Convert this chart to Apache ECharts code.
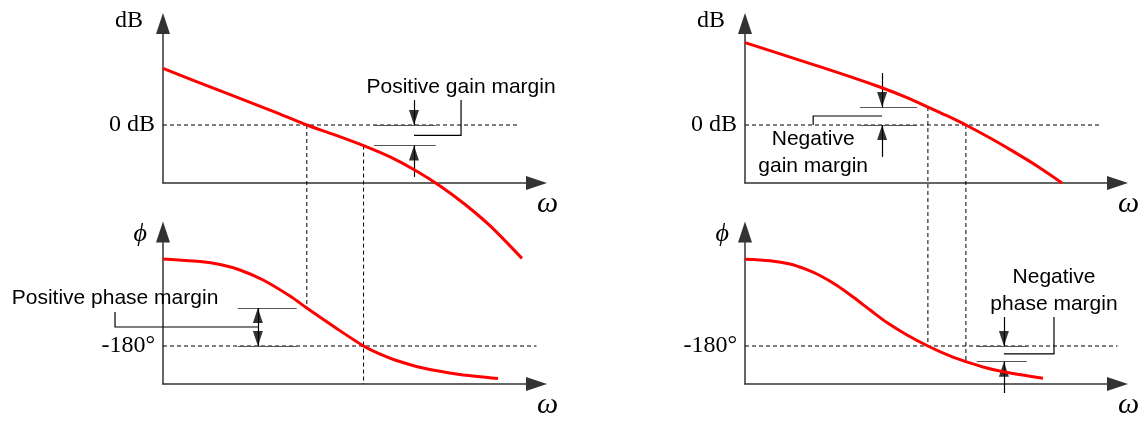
<!DOCTYPE html>
<html>
<head>
<meta charset="utf-8">
<script src="https://cdn.jsdelivr.net/npm/echarts@6/dist/echarts.min.js"></script>
<style>
  html, body { margin: 0; padding: 0; background: #fff; }
  #chart { width: 1146px; height: 421px; }
</style>
</head>
<body>
<div id="chart"></div>
<script>
// Bode plots of a stable loop (left) and an unstable loop (right).
// ω is a normalised frequency (0–100 along each axis), gain in dB, phase in degrees.

// Stable loop
const omegaGainStable  = [0, 16.1, 29.5, 38.5, 46, 53.7, 60.8, 67.5, 74.2, 80.9, 87.6, 96.1];
const gainStable       = [19.5, 11.4, 4.7, 0, -3.4, -7.1, -11, -15.6, -21, -27.4, -34.8, -46];
const omegaPhaseStable = [0, 9.9, 15.3, 20.6, 26.8, 34, 38.5, 46.1, 53.7, 58, 62.1, 69.6, 79.5, 89.7];
const phaseStable      = [-88.4, -91.1, -94.2, -100, -110.5, -127.4, -140, -160.5, -180, -188.4, -194.7, -203.2, -210, -214.2];

// Unstable loop
const omegaGainUnstable  = [0, 14.8, 28.2, 36.2, 43, 49.1, 54.2, 59.3, 65.8, 72, 78.7, 85.1];
const gainUnstable       = [28.4, 22.3, 16.7, 13.1, 9.7, 6.2, 3.2, 0, -4.5, -9.1, -14.4, -20];
const omegaPhaseUnstable = [0, 6.7, 12.1, 16.1, 20.1, 24.7, 29, 33.6, 38.1, 43.5, 49.1, 55, 59.3, 64.4, 69.3, 80];
const phaseUnstable      = [-88.7, -90.3, -93.7, -98.9, -105.8, -116.3, -128.4, -142.1, -155.3, -168.4, -180, -190.5, -196.5, -202.6, -207.1, -214];

// Gain-crossover (|G| = 0 dB) and phase-crossover (∠G = -180°) frequencies
const crossoverStable   = { gain: 38.5, phase: 53.7 };
const crossoverUnstable = { gain: 59.3, phase: 49.1 };

// Axis ranges and the single labelled tick on each vertical axis
const omegaRange = [0, 100];
const gainRange  = [-20, 35];
const phaseRange = [-220, -60];
const gainTick = 0;     const gainTickLabel = '0 dB';
const phaseTick = -180; const phaseTickLabel = '-180°';

// Annotation texts
const labelGainPos  = 'Positive gain margin';
const labelPhasePos = 'Positive phase margin';
const labelGainNeg  = 'Negative\ngain margin';
const labelPhaseNeg = 'Negative\nphase margin';

const zip = (xs, ys) => xs.map((x, i) => [x, ys[i]]);
const valueAt = (xs, ys, x) => ys[xs.indexOf(x)];

const SERIF = '"Liberation Serif", "Times New Roman", "DejaVu Serif", serif';
const SANS = '"Liberation Sans", Arial, "DejaVu Sans", sans-serif';
const AXIS_COLOR = '#333';
const HEAD = [10, 15];

const grids = [
  { left: 163, top: 23.5, width: 373.5, height: 159.5 },  // stable, gain
  { left: 163, top: 232,  width: 373.5, height: 152 },    // stable, phase
  { left: 745, top: 23.5, width: 372.5, height: 159.5 },  // unstable, gain
  { left: 745, top: 232,  width: 372.5, height: 152 }     // unstable, phase
].map(g => Object.assign({ outerBoundsMode: 'none', containLabel: false }, g));

const axisLine = {
  show: true, onZero: false,
  symbol: ['none', 'triangle'], symbolSize: [14, 21],
  lineStyle: { color: AXIS_COLOR, width: 1.5 }
};

const xAxes = grids.map((g, i) => ({
  type: 'value', gridIndex: i, min: omegaRange[0], max: omegaRange[1],
  axisLine, axisTick: { show: false }, axisLabel: { show: false }, splitLine: { show: false }
}));

function yAxis(i, range, tick, label) {
  return {
    type: 'value', gridIndex: i, min: range[0], max: range[1], interval: 20,
    axisLine, axisTick: { show: false }, splitLine: { show: false },
    axisLabel: {
      show: true, margin: 8, color: '#000', fontFamily: SERIF, fontSize: 24,
      formatter: v => (Math.abs(v - tick) < 1e-6 ? label : '')
    }
  };
}
const yAxes = [
  yAxis(0, gainRange, gainTick, gainTickLabel),
  yAxis(1, phaseRange, phaseTick, phaseTickLabel),
  yAxis(2, gainRange, gainTick, gainTickLabel),
  yAxis(3, phaseRange, phaseTick, phaseTickLabel)
];

function curve(i, xs, ys) {
  return {
    type: 'line', xAxisIndex: i, yAxisIndex: i, data: zip(xs, ys),
    smooth: 0.3, symbol: 'none', showSymbol: false, clip: false,
    lineStyle: { color: '#ff0000', width: 3 }, z: 5, silent: true
  };
}
function refLine(i, value, end) {
  return {
    type: 'line', xAxisIndex: i, yAxisIndex: i, data: [[0, value], [end, value]],
    symbol: 'none', clip: false, silent: true,
    lineStyle: { color: '#000', width: 1, type: [4, 3] }, z: 2
  };
}
function segs(i, list, color, width, polyline) {
  return {
    type: 'lines', coordinateSystem: 'cartesian2d', xAxisIndex: i, yAxisIndex: i,
    polyline: !!polyline, clip: false, silent: true,
    lineStyle: { color, width, opacity: 1, curveness: 0 },
    data: list.map(c => ({ coords: c })), z: 3
  };
}
// Arrowheads: tip sits on the given point, pointing 'up' or 'down'
function heads(i, list) {
  return {
    type: 'scatter', xAxisIndex: i, yAxisIndex: i, clip: false, silent: true,
    symbol: 'triangle', symbolSize: HEAD, itemStyle: { color: '#000' }, z: 4,
    data: list.map(h => ({
      value: h.at,
      symbolRotate: h.dir === 'down' ? 180 : 0,
      symbolOffset: [0, h.dir === 'down' ? -HEAD[1] / 2 : HEAD[1] / 2]
    }))
  };
}

// Margin markers
function marginSeries() {
  const out = [];
  // stable, gain margin (grid 0)
  {
    const gm = valueAt(omegaGainStable, gainStable, crossoverStable.phase);
    const ax = 67.2, bx = 79.8, top = 8.6, mid = (gainTick + gm) / 2;
    out.push(segs(0, [[[56.5, gainTick], [73, gainTick]], [[56.5, gm], [73, gm]]], '#555', 1));
    out.push(segs(0, [[[ax, top], [ax, gainTick]], [[ax, -17.9], [ax, gm]]], '#000', 1.2));
    out.push(segs(0, [[[ax, mid], [bx, mid], [bx, top]]], '#000', 1.2, true));
    out.push(heads(0, [{ at: [ax, gainTick], dir: 'down' }, { at: [ax, gm], dir: 'up' }]));
  }
  // stable, phase margin (grid 1)
  {
    const ph = valueAt(omegaPhaseStable, phaseStable, crossoverStable.gain);
    const ax = 25.4, bx = -12.85, mid = (ph + phaseTick) / 2;
    out.push(segs(1, [[[20, ph], [35.8, ph]], [[20, phaseTick], [35.8, phaseTick]]], '#555', 1));
    out.push(segs(1, [[[ax, ph], [ax, phaseTick]]], '#000', 1.2));
    out.push(segs(1, [[[bx, -144.2], [bx, mid], [ax, mid]]], '#000', 1.2, true));
    out.push(heads(1, [{ at: [ax, ph], dir: 'up' }, { at: [ax, phaseTick], dir: 'down' }]));
  }
  // unstable, gain margin (grid 2)
  {
    const gm = valueAt(omegaGainUnstable, gainUnstable, crossoverUnstable.phase);
    const ax = 36.8, bx = 18.3, mid = (gainTick + gm) / 2;
    out.push(segs(2, [[[30.9, gm], [46.2, gm]], [[30.9, gainTick], [46.2, gainTick]]], '#555', 1));
    out.push(segs(2, [[[ax, 17.9], [ax, gm]], [[ax, -11], [ax, gainTick]]], '#000', 1.2));
    out.push(segs(2, [[[ax, mid], [bx, mid], [bx, gainTick]]], '#000', 1.2, true));
    out.push(heads(2, [{ at: [ax, gm], dir: 'down' }, { at: [ax, gainTick], dir: 'up' }]));
  }
  // unstable, phase margin (grid 3)
  {
    const ph = valueAt(omegaPhaseUnstable, phaseUnstable, crossoverUnstable.gain);
    const ax = 69.5, bx = 82.95, top = -149.5, mid = (ph + phaseTick) / 2;
    out.push(segs(3, [[[62.2, phaseTick], [75.6, phaseTick]], [[62.2, ph], [75.6, ph]]], '#555', 1));
    out.push(segs(3, [[[ax, top], [ax, phaseTick]], [[ax, -229.5], [ax, ph]]], '#000', 1.2));
    out.push(segs(3, [[[ax, mid], [bx, mid], [bx, top]]], '#000', 1.2, true));
    out.push(heads(3, [{ at: [ax, phaseTick], dir: 'down' }, { at: [ax, ph], dir: 'up' }]));
  }
  return out;
}

const option = {
  animation: false,
  backgroundColor: '#fff',
  grid: grids,
  xAxis: xAxes,
  yAxis: yAxes,
  series: [
    refLine(0, gainTick, 95),
    refLine(1, phaseTick, 100),
    refLine(2, gainTick, 95.3),
    refLine(3, phaseTick, 100),
    curve(0, omegaGainStable, gainStable),
    curve(1, omegaPhaseStable, phaseStable),
    curve(2, omegaGainUnstable, gainUnstable),
    curve(3, omegaPhaseUnstable, phaseUnstable)
  ].concat(marginSeries())
};

const chart = echarts.init(document.getElementById('chart'));
chart.setOption(option);

const px = (g, v) => chart.convertToPixel({ gridIndex: g }, v);

function dashed(a, b) {
  return {
    type: 'line', silent: true, z: 2,
    shape: { x1: a[0], y1: a[1], x2: b[0], y2: b[1] },
    style: { stroke: '#000', lineWidth: 1, lineDash: [4, 3] }
  };
}
function text(p, str, font, align) {
  return {
    type: 'text', silent: true, z: 10, x: p[0], y: p[1],
    style: Object.assign({
      text: str, fill: '#000', align: align || 'center', verticalAlign: 'middle', lineHeight: 27
    }, font)
  };
}
const sansFont = { fontFamily: SANS, fontSize: 21 };
const serifFont = { fontFamily: SERIF, fontSize: 24 };
const italicFont = size => ({ fontFamily: SERIF, fontSize: size, fontStyle: 'italic' });

const graphics = [];

// Crossover guides running from the gain plot down into the phase plot
{
  const s = crossoverStable, u = crossoverUnstable;
  graphics.push(dashed(px(0, [s.gain, gainTick]),
                       px(1, [s.gain, valueAt(omegaPhaseStable, phaseStable, s.gain)])));
  graphics.push(dashed(px(0, [s.phase, valueAt(omegaGainStable, gainStable, s.phase)]),
                       px(1, [s.phase, phaseRange[0]])));
  graphics.push(dashed(px(2, [u.phase, valueAt(omegaGainUnstable, gainUnstable, u.phase)]),
                       px(3, [u.phase, phaseTick])));
  graphics.push(dashed(px(2, [u.gain, gainTick]),
                       px(3, [u.gain, valueAt(omegaPhaseUnstable, phaseUnstable, u.gain)])));
}

// Axis names
[0, 1, 2, 3].forEach(g => {
  const isGain = g % 2 === 0;
  const range = isGain ? gainRange : phaseRange;
  const top = px(g, [omegaRange[0], range[1]]);
  const end = px(g, [omegaRange[1], range[0]]);
  if (isGain) {
    graphics.push(text([top[0] - 20, top[1] - 3], 'dB', serifFont, 'right'));
  } else {
    graphics.push(text([top[0] - 16, top[1] + 2], 'ϕ', italicFont(26), 'right'));
  }
  graphics.push(text([end[0] + 11, end[1] + 21], 'ω', italicFont(30), 'center'));
});

// Margin captions
graphics.push(text(px(0, [79.8, 13.1]), labelGainPos, sansFont));
graphics.push(text(px(1, [-12.85, -129.5]), labelPhasePos, sansFont));
graphics.push(text(px(2, [18.3, -9.66]), labelGainNeg, sansFont));
graphics.push(text(px(3, [82.95, -122.1]), labelPhaseNeg, sansFont));

chart.setOption({ graphic: graphics });
</script>
</body>
</html>
